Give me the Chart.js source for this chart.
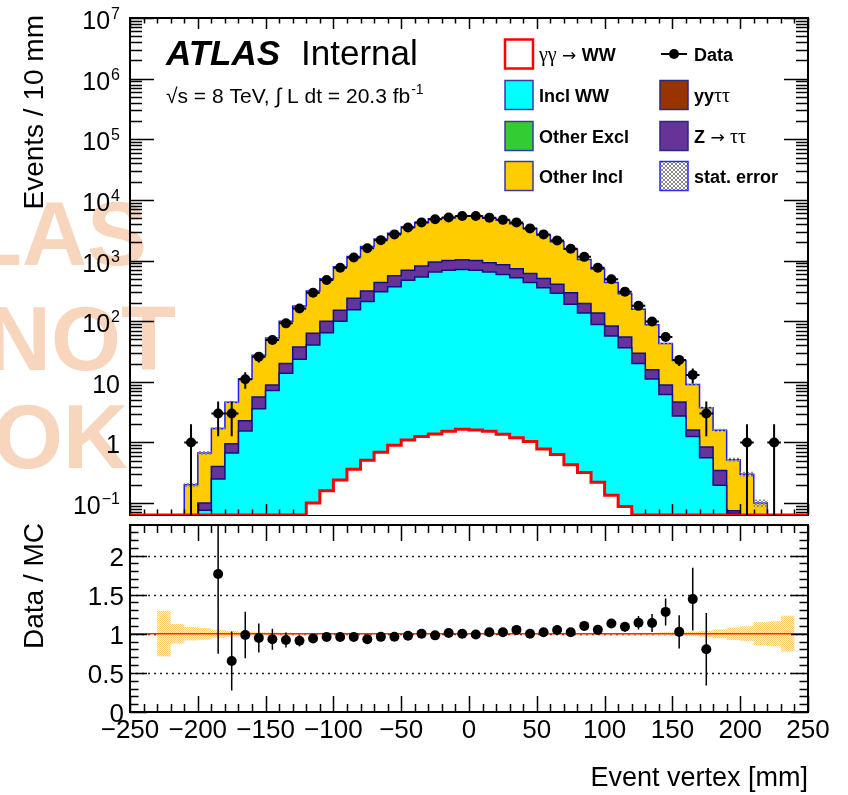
<!DOCTYPE html>
<html>
<head>
<meta charset="utf-8">
<script src="https://cdn.jsdelivr.net/npm/chart.js@4.4.1/dist/chart.umd.min.js"></script>
<style>
  html, body { margin: 0; padding: 0; background: #fff; }
  #wrap { position: relative; width: 848px; height: 795px; }
  canvas { position: absolute; left: 0; }
  #mainChart { top: 0; }
  #ratioChart { top: 520px; }
</style>
</head>
<body>
<div id="wrap">
  <canvas id="mainChart" width="848" height="520"></canvas>
  <canvas id="ratioChart" width="848" height="275"></canvas>
</div>
<script>
// bins of 10 mm, centres in mm
const binCenters = [-245, -235, -225, -215, -205, -195, -185, -175, -165, -155,
  -145, -135, -125, -115, -105, -95, -85, -75, -65, -55,
  -45, -35, -25, -15, -5, 5, 15, 25, 35, 45,
  55, 65, 75, 85, 95, 105, 115, 125, 135, 145,
  155, 165, 175, 185, 195, 205, 215, 225, 235, 245];
const binWidth = 10;

// observed events per bin
const dataCounts = [0, 0, 0, 0, 1, 0, 3, 3, 11, 26,
  49, 92, 162, 295, 479, 760, 1120, 1590, 2170, 2700,
  3500, 4260, 4790, 5140, 5430, 5430, 5100, 4690, 4260, 3390,
  2700, 2150, 1560, 1150, 760, 493, 307, 179, 99, 55,
  23, 13, 3, 0, 0, 1, 0, 1, 0, 0];

// MC components (stacked bottom to top)
const ggWW = [0, 0, 0, 0, 0, 0, 0, 0, 0, 0,
  0, 0, 0, 0.10, 0.16, 0.24, 0.36, 0.51, 0.69, 0.90,
  1.10, 1.25, 1.38, 1.53, 1.65, 1.60, 1.53, 1.37, 1.20, 1.04,
  0.78, 0.63, 0.43, 0.32, 0.22, 0.135, 0.088, 0, 0, 0,
  0, 0, 0, 0, 0, 0, 0, 0, 0, 0];
const inclWW = [0, 0, 0.004, 0.015, 0.03, 0.076, 0.25, 0.67, 1.55, 3.6,
  7.2, 13.8, 23.6, 40.5, 64.2, 99.4, 153.6, 210.5, 305.3, 369.1,
  471.9, 535.8, 648.6, 688.5, 708.4, 688.4, 648.5, 588.6, 517.8, 434,
  355.2, 287.4, 190.6, 135.7, 87.8, 56.9, 36.5, 20, 11.1, 6.2,
  2.72, 1.25, 0.56, 0.197, 0.068, 0.02, 0.008, 0.003, 0.001, 0];
const otherExcl = [0, 0, 0, 0, 0, 0, 0, 0.002, 0.005, 0.01,
  0.02, 0.04, 0.06, 0.1, 0.16, 0.25, 0.38, 0.52, 0.75, 0.9,
  1.15, 1.3, 1.55, 1.65, 1.7, 1.65, 1.55, 1.42, 1.25, 1.05,
  0.86, 0.7, 0.47, 0.33, 0.21, 0.14, 0.09, 0.05, 0.03, 0.015,
  0.007, 0.003, 0.001, 0, 0, 0, 0, 0, 0, 0];
const yytt = [0, 0, 0, 0, 0, 0, 0, 0, 0, 0,
  0.01, 0.02, 0.03, 0.05, 0.08, 0.12, 0.18, 0.25, 0.35, 0.42,
  0.52, 0.6, 0.68, 0.72, 0.74, 0.73, 0.7, 0.65, 0.57, 0.48,
  0.4, 0.32, 0.22, 0.16, 0.1, 0.07, 0.04, 0.02, 0.01, 0,
  0, 0, 0, 0, 0, 0, 0, 0, 0, 0];
const zTauTau = [0, 0, 0.003, 0.01, 0.02, 0.024, 0.15, 0.28, 0.72, 2.0,
  1.67, 6.1, 13.9, 22.2, 35.0, 52.0, 83.4, 102.2, 127.9, 188.7,
  215.3, 276.1, 292.8, 307.6, 317.6, 307.6, 267.8, 257.9, 214.2, 173.5,
  147.7, 118.0, 103.3, 58.5, 47.7, 25.8, 18.3, 9.4, 4.66, 2.68,
  1.93, 0.357, 0.28, 0.148, 0.007, 0.01, 0.004, 0.002, 0.001, 0];
const otherIncl = [0, 0, 0.023, 0.025, 0.15, 0.57, 1.30, 3.65, 8.9, 21.9,
  43.8, 80, 140.4, 251, 399.4, 640, 929, 1396, 1825, 2250,
  2900, 3445, 3945, 4090, 4400, 4480, 4080, 3750, 3325, 2780,
  2145, 1643, 1235, 850, 588, 353, 227, 127.5, 71.2, 34.1,
  17.8, 7.4, 2.9, 1.25, 0.445, 0.27, 0.088, 0.035, 0.018, 0];

// relative MC stat. uncertainty per bin
const mcStatRel = [0, 0, 0.29, 0.125, 0.085, 0.075, 0.05, 0.035, 0.025, 0.02,
  0.017, 0.013, 0.01, 0.008, 0.007, 0.006, 0.005, 0.005, 0.004, 0.004,
  0.004, 0.004, 0.004, 0.004, 0.004, 0.004, 0.004, 0.004, 0.004, 0.004,
  0.004, 0.004, 0.005, 0.005, 0.006, 0.007, 0.008, 0.01, 0.013, 0.02,
  0.025, 0.03, 0.04, 0.057, 0.08, 0.095, 0.15, 0.16, 0.23, 0];

const xTickLabels = [-250, -200, -150, -100, -50, 0, 50, 100, 150, 200, 250];
const yMainLabels = [0.1, 1, 10, 100, 1e3, 1e4, 1e5, 1e6, 1e7];
const yRatioLabels = [0, 0.5, 1, 1.5, 2];

const FONT = '"Liberation Sans", Arial, Helvetica, sans-serif';
const SERIF = '"Liberation Serif", "Times New Roman", serif';
const ARROW = '"DejaVu Sans", sans-serif';
const Y_MIN = 0.0636;
const Y_MAX = 1e7;
const RATIO_MAX = 2.39;

// ---- build stacked series ----
function cumulate(layers) {
  return binCenters.map((_, i) => layers.reduce((s, l) => s + l[i], 0));
}
const cum1 = cumulate([ggWW]);
const cum2 = cumulate([ggWW, inclWW]);
const cum3 = cumulate([ggWW, inclWW, otherExcl]);
const cum4 = cumulate([ggWW, inclWW, otherExcl, yytt]);
const cum5 = cumulate([ggWW, inclWW, otherExcl, yytt, zTauTau]);
const total = cumulate([ggWW, inclWW, otherExcl, yytt, zTauTau, otherIncl]);

// histogram outline; empty bins sit on the lower edge of the log axis like ROOT does
function steps(vals, floor) {
  const pts = [];
  binCenters.forEach((c, i) => {
    const v = floor !== undefined ? Math.max(vals[i], floor) : vals[i];
    pts.push({ x: c - binWidth / 2, y: v }, { x: c + binWidth / 2, y: v });
  });
  return pts;
}

const dataPoints = binCenters
  .map((c, i) => ({ x: c, y: dataCounts[i], err: Math.sqrt(dataCounts[i]) }))
  .filter(p => p.y > 0);

const ratioPoints = binCenters
  .map((c, i) => ({
    x: c,
    y: total[i] > 0 ? dataCounts[i] / total[i] : 0,
    err: total[i] > 0 ? Math.sqrt(dataCounts[i]) / total[i] : 0,
    ok: dataCounts[i] > 0 && total[i] > 0
  }))
  .filter(p => p.ok && p.y <= RATIO_MAX);

// ---- patterns ----
function makePattern(size, draw) {
  const c = document.createElement('canvas');
  c.width = size; c.height = size;
  const g = c.getContext('2d');
  draw(g);
  return g.createPattern(c, 'repeat');
}
const hatchGrey = makePattern(4, g => {
  g.fillStyle = '#8a8a8a';
  for (let i = 0; i < 4; i++) { g.fillRect(i, i, 1, 1); g.fillRect(3 - i, i, 1, 1); }
});
const hatchOrange = makePattern(2, g => {
  g.fillStyle = '#fff4da'; g.fillRect(0, 0, 2, 2);
  g.fillStyle = '#f9cd6e'; g.fillRect(0, 0, 1, 1); g.fillRect(1, 1, 1, 1);
});

// ---- legend ----
const legendEntries = [
  { col: 0, row: 0, fill: '#ffffff', stroke: '#ff0000', lw: 2.5,
    parts: [['γγ', '20px ' + SERIF], [' → ', '17px ' + ARROW], ['WW', 'bold 18px ' + FONT]] },
  { col: 1, row: 0, marker: true, parts: [['Data', 'bold 18px ' + FONT]] },
  { col: 0, row: 1, fill: '#00ffff', stroke: '#3a3aa0', lw: 1.5, parts: [['Incl WW', 'bold 18px ' + FONT]] },
  { col: 1, row: 1, fill: '#993300', stroke: '#2a2a80', lw: 1.5,
    parts: [['yy', 'bold 18px ' + FONT], ['ττ', '20px ' + SERIF]] },
  { col: 0, row: 2, fill: '#33cc33', stroke: '#3a3aa0', lw: 1.5, parts: [['Other Excl', 'bold 18px ' + FONT]] },
  { col: 1, row: 2, fill: '#663399', stroke: '#2a2a80', lw: 1.5,
    parts: [['Z', 'bold 18px ' + FONT], [' → ', '17px ' + ARROW], ['ττ', '20px ' + SERIF]] },
  { col: 0, row: 3, fill: '#ffcc00', stroke: '#3a3aa0', lw: 1.5, parts: [['Other Incl', 'bold 18px ' + FONT]] },
  { col: 1, row: 3, fill: 'hatch', stroke: '#2a2aff', lw: 1.5, parts: [['stat. error', 'bold 18px ' + FONT]] }
];
const legendColX = [505, 660];
const legendRowY = [54, 95, 136, 176];

function drawParts(ctx, parts, x, y) {
  parts.forEach(([t, f]) => {
    ctx.font = f;
    ctx.fillText(t, x, y);
    x += ctx.measureText(t).width;
  });
}

function drawLegend(ctx) {
  ctx.save();
  ctx.textAlign = 'left';
  ctx.textBaseline = 'alphabetic';
  legendEntries.forEach(e => {
    const bx = legendColX[e.col], cy = legendRowY[e.row];
    if (e.marker) {
      ctx.strokeStyle = '#000'; ctx.lineWidth = 2;
      ctx.beginPath(); ctx.moveTo(bx + 1, cy); ctx.lineTo(bx + 27, cy); ctx.stroke();
      ctx.fillStyle = '#000';
      ctx.beginPath(); ctx.arc(bx + 14, cy, 5, 0, Math.PI * 2); ctx.fill();
    } else {
      ctx.fillStyle = '#fff';
      ctx.fillRect(bx, cy - 14.5, 28, 29);
      ctx.fillStyle = e.fill === 'hatch' ? hatchGrey : e.fill;
      ctx.fillRect(bx, cy - 14.5, 28, 29);
      ctx.strokeStyle = e.stroke; ctx.lineWidth = e.lw;
      ctx.strokeRect(bx, cy - 14.5, 28, 29);
    }
    ctx.fillStyle = '#000';
    drawParts(ctx, e.parts, bx + 34, cy + 6.5);
  });
  ctx.restore();
}

// ---- main panel decorations ----
function drawMainFrame(chart) {
  const { ctx, chartArea: a, scales: { x, y } } = chart;
  ctx.save();
  ctx.strokeStyle = '#000';
  ctx.lineWidth = 2;
  ctx.strokeRect(a.left, a.top, a.right - a.left, a.bottom - a.top);
  ctx.lineWidth = 1.5;
  ctx.beginPath();
  for (let v = x.min; v <= x.max + 1e-6; v += 10) {
    const px = Math.round(x.getPixelForValue(v)) + 0.5;
    const len = Math.abs(v % 50) < 1e-6 ? 11 : 5.5;
    ctx.moveTo(px, a.bottom); ctx.lineTo(px, a.bottom - len);
    ctx.moveTo(px, a.top); ctx.lineTo(px, a.top + len);
  }
  for (let e = -2; e <= 7; e++) {
    for (let m = 1; m <= 9; m++) {
      const v = m * Math.pow(10, e);
      if (v < y.min || v > y.max * 1.0001) continue;
      const py = Math.round(y.getPixelForValue(v)) + 0.5;
      const len = m === 1 ? 24 : 12;
      ctx.moveTo(a.left, py); ctx.lineTo(a.left + len, py);
      ctx.moveTo(a.right, py); ctx.lineTo(a.right - len, py);
    }
  }
  ctx.stroke();
  ctx.restore();
}

const mainDecor = {
  id: 'mainDecor',
  beforeDraw(chart) {
    const ctx = chart.ctx;
    ctx.save();
    ctx.fillStyle = '#f7d6bd';
    ctx.font = 'bold 90px ' + FONT;
    ctx.textAlign = 'right';
    ctx.fillText('ATLAS', 147, 265);
    ctx.fillText('NOT', 176, 370);
    ctx.fillText('OK', 128, 468);
    ctx.restore();
  },
  beforeDatasetDraw(chart, args) {
    if (args.index !== 0) return;
    const { ctx, chartArea: a, scales: { x, y } } = chart;
    ctx.save();
    ctx.beginPath();
    ctx.rect(a.left, a.top, a.right - a.left, a.bottom - a.top);
    ctx.clip();
    ctx.strokeStyle = '#000';
    ctx.lineWidth = 2;
    ctx.beginPath();
    chart.data.datasets[0].data.forEach(p => {
      const px = x.getPixelForValue(p.x);
      const lo = p.y - p.err;
      const yTop = y.getPixelForValue(p.y + p.err);
      const yBot = lo > 0 ? y.getPixelForValue(lo) : a.bottom + 2;
      ctx.moveTo(px, yTop); ctx.lineTo(px, yBot);
      const py = y.getPixelForValue(p.y);
      ctx.moveTo(x.getPixelForValue(p.x - binWidth / 2), py);
      ctx.lineTo(x.getPixelForValue(p.x + binWidth / 2), py);
    });
    ctx.stroke();
    ctx.restore();
  },
  afterDatasetDraw(chart, args) {
    // frame goes above the filled stack but under the γγ→WW outline
    if (args.index === 4) drawMainFrame(chart);
  },
  afterDraw(chart) {
    const { ctx, scales: { y } } = chart;
    ctx.save();
    ctx.fillStyle = '#000';
    ctx.textBaseline = 'alphabetic';
    ctx.textAlign = 'left';
    const right = 120;
    yMainLabels.forEach(v => {
      const e = Math.round(Math.log10(v));
      const py = y.getPixelForValue(v);
      const base = e === 0 ? '1' : '10';
      const exp = (e === 0 || e === 1) ? '' : (e < 0 ? '\u2212' + (-e) : String(e));
      ctx.font = '16px ' + FONT;
      const wE = exp ? ctx.measureText(exp).width + 1 : 0;
      ctx.font = '25px ' + FONT;
      const wB = ctx.measureText(base).width;
      ctx.fillText(base, right - wE - wB, py + 11);
      if (exp) {
        ctx.font = '16px ' + FONT;
        ctx.fillText(exp, right - wE + 1, py + 1);
      }
    });
    // y title
    ctx.save();
    ctx.translate(43, 15);
    ctx.rotate(-Math.PI / 2);
    ctx.textAlign = 'right';
    ctx.font = '28px ' + FONT;
    ctx.fillText('Events / 10 mm', 0, 0);
    ctx.restore();
    // ATLAS label
    ctx.textAlign = 'left';
    ctx.font = 'italic bold 35px ' + FONT;
    ctx.fillText('ATLAS', 166, 65);
    ctx.font = '35px ' + FONT;
    ctx.fillText('Internal', 301, 65);
    ctx.font = '21px ' + FONT;
    const lumi = '\u221As = 8 TeV, \u222B L dt = 20.3 fb';
    ctx.fillText(lumi, 166, 103);
    const wl = ctx.measureText(lumi).width;
    ctx.font = '14px ' + FONT;
    ctx.fillText('-1', 166 + wl + 1, 94);
    ctx.restore();
    drawLegend(ctx);
  }
};

function stepLayer(vals, fillColor, borderColor, borderWidth) {
  return {
    data: steps(vals, Y_MIN),
    borderColor: borderColor,
    borderWidth: borderWidth,
    backgroundColor: fillColor,
    fill: 'start',
    pointRadius: 0,
    tension: 0
  };
}

new Chart(document.getElementById('mainChart').getContext('2d'), {
  type: 'line',
  data: {
    datasets: [
      { // 0 data
        data: dataPoints,
        showLine: false,
        pointRadius: 5,
        pointBackgroundColor: '#000',
        pointBorderWidth: 0
      },
      { // 1 stat. error band (upper)
        data: steps(total.map((t, i) => t * (1 + mcStatRel[i])), Y_MIN),
        borderWidth: 0,
        backgroundColor: hatchGrey,
        fill: '+1',
        pointRadius: 0
      },
      { // 2 stat. error band (lower)
        data: steps(total.map((t, i) => t * (1 - mcStatRel[i])), Y_MIN),
        borderWidth: 0,
        fill: false,
        pointRadius: 0
      },
      stepLayer(cum1, '#ffffff', '#ff0000', 3),   // 3 γγ→WW
      stepLayer(cum2, '#00ffff', '#10108a', 1.5), // 4 Incl WW
      stepLayer(cum3, '#33cc33', '#33cc33', 0),   // 5 Other Excl
      stepLayer(cum4, '#993300', '#993300', 0),   // 6 yyττ
      stepLayer(cum5, '#663399', '#10108a', 1.5), // 7 Z→ττ
      stepLayer(total, '#ffcc00', '#1a1aff', 1.5) // 8 Other Incl
    ]
  },
  options: {
    responsive: false,
    animation: false,
    events: [],
    layout: { padding: { left: 130, right: 40, top: 18, bottom: 2 } },
    plugins: { legend: { display: false }, tooltip: { enabled: false } },
    scales: {
      x: { type: 'linear', min: -250, max: 250, display: false },
      y: { type: 'logarithmic', min: Y_MIN, max: Y_MAX, display: false }
    }
  },
  plugins: [mainDecor]
});

// ---- ratio panel ----
const ratioDecor = {
  id: 'ratioDecor',
  beforeDatasetsDraw(chart) {
    const { ctx, chartArea: a, scales: { y } } = chart;
    ctx.save();
    ctx.strokeStyle = '#222';
    ctx.lineWidth = 1.5;
    ctx.setLineDash([2, 4]);
    [0.5, 1, 1.5, 2].forEach(v => {
      const py = Math.round(y.getPixelForValue(v)) + 0.5;
      ctx.beginPath(); ctx.moveTo(a.left, py); ctx.lineTo(a.right, py); ctx.stroke();
    });
    ctx.restore();
  },
  afterDatasetDraw(chart, args) {
    if (args.index !== 1) return;
    const { ctx, chartArea: a, scales: { y } } = chart;
    const py = y.getPixelForValue(1);
    ctx.save();
    ctx.strokeStyle = '#ff2a00';
    ctx.lineWidth = 1.5;
    ctx.beginPath(); ctx.moveTo(a.left, py); ctx.lineTo(a.right, py); ctx.stroke();
    ctx.restore();
  },
  beforeDatasetDraw(chart, args) {
    if (args.index !== 0) return;
    const { ctx, chartArea: a, scales: { x, y } } = chart;
    ctx.save();
    ctx.beginPath();
    ctx.rect(a.left, a.top, a.right - a.left, a.bottom - a.top);
    ctx.clip();
    ctx.strokeStyle = '#000';
    ctx.lineWidth = 1.5;
    ctx.beginPath();
    chart.data.datasets[0].data.forEach(p => {
      const px = x.getPixelForValue(p.x);
      ctx.moveTo(px, y.getPixelForValue(p.y + p.err));
      ctx.lineTo(px, y.getPixelForValue(Math.max(p.y - p.err, -0.1)));
    });
    ctx.stroke();
    ctx.restore();
  },
  afterDraw(chart) {
    const { ctx, chartArea: a, scales: { x, y } } = chart;
    ctx.save();
    ctx.strokeStyle = '#000';
    ctx.lineWidth = 2;
    ctx.strokeRect(a.left, a.top, a.right - a.left, a.bottom - a.top);
    ctx.lineWidth = 1.5;
    ctx.beginPath();
    for (let v = x.min; v <= x.max + 1e-6; v += 10) {
      const px = Math.round(x.getPixelForValue(v)) + 0.5;
      const len = Math.abs(v % 50) < 1e-6 ? 16 : 8;
      ctx.moveTo(px, a.bottom); ctx.lineTo(px, a.bottom - len);
      ctx.moveTo(px, a.top); ctx.lineTo(px, a.top + len);
    }
    for (let k = 0; k <= 23; k++) {
      const v = k / 10;
      if (v > y.max) break;
      const py = Math.round(y.getPixelForValue(v)) + 0.5;
      const len = k % 5 === 0 ? 17 : 8.5;
      ctx.moveTo(a.left, py); ctx.lineTo(a.left + len, py);
      ctx.moveTo(a.right, py); ctx.lineTo(a.right - len, py);
    }
    ctx.stroke();

    ctx.fillStyle = '#000';
    ctx.textBaseline = 'alphabetic';
    ctx.font = '26px ' + FONT;
    ctx.textAlign = 'right';
    yRatioLabels.forEach(v => {
      ctx.fillText(String(v), 124, y.getPixelForValue(v) + 10);
    });
    ctx.textAlign = 'center';
    xTickLabels.forEach(v => {
      const t = v < 0 ? '\u2212' + (-v) : String(v);
      ctx.fillText(t, x.getPixelForValue(v), 218);
    });
    ctx.font = '27px ' + FONT;
    ctx.textAlign = 'right';
    ctx.fillText('Event vertex [mm]', 808, 266);
    ctx.save();
    ctx.translate(43, 3);
    ctx.rotate(-Math.PI / 2);
    ctx.font = '28px ' + FONT;
    ctx.fillText('Data / MC', 0, 0);
    ctx.restore();
    ctx.restore();
  }
};

new Chart(document.getElementById('ratioChart').getContext('2d'), {
  type: 'line',
  data: {
    datasets: [
      { // 0 data / MC
        data: ratioPoints,
        showLine: false,
        pointRadius: 5,
        pointBackgroundColor: '#000',
        pointBorderWidth: 0
      },
      { // 1 stat band upper
        data: steps(mcStatRel.map(e => 1 + e)),
        borderWidth: 0,
        backgroundColor: hatchOrange,
        fill: '+1',
        pointRadius: 0
      },
      { // 2 stat band lower
        data: steps(mcStatRel.map(e => 1 - e)),
        borderWidth: 0,
        fill: false,
        pointRadius: 0
      }
    ]
  },
  options: {
    responsive: false,
    animation: false,
    events: [],
    layout: { padding: { left: 130, right: 40, top: 3, bottom: 83 } },
    plugins: { legend: { display: false }, tooltip: { enabled: false } },
    scales: {
      x: { type: 'linear', min: -250, max: 250, display: false },
      y: { type: 'linear', min: 0, max: RATIO_MAX, display: false }
    }
  },
  plugins: [ratioDecor]
});
</script>
</body>
</html>
